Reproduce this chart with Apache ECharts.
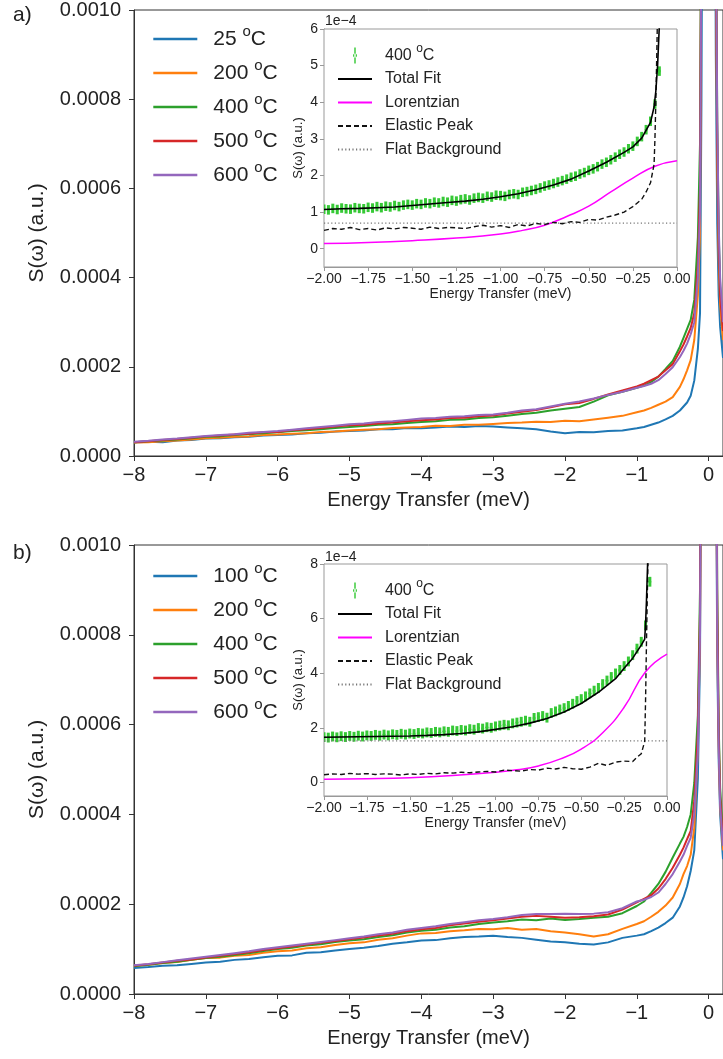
<!DOCTYPE html>
<html>
<head>
<meta charset="utf-8">
<title>S(ω) vs energy transfer</title>
<script src="https://cdn.jsdelivr.net/npm/echarts@6.0.0/dist/echarts.min.js"></script>
<style>
  html, body { margin: 0; padding: 0; background: #fff; }
  #chart { width: 723px; height: 1059px; }
</style>
</head>
<body>
<div id="chart"></div>
<script>
// energy transfer (meV) shared by the main curves, values in units of 1e-4
var energy = [-8.0,-7.8,-7.6,-7.4,-7.2,-7.0,-6.8,-6.6,-6.4,-6.2,
  -6.0,-5.8,-5.6,-5.4,-5.2,-5.0,-4.8,-4.6,-4.4,-4.2,
  -4.0,-3.8,-3.6,-3.4,-3.2,-3.0,-2.8,-2.6,-2.4,-2.2,
  -2.0,-1.8,-1.6,-1.4,-1.2,-1.0,-0.9,-0.8,-0.7,-0.6,
  -0.5,-0.4,-0.35,-0.3,-0.25,-0.2,-0.15,-0.12,-0.1,-0.05,
  0,0.05,0.1,0.12,0.14,0.16,0.2];

// panel a)
var a25 = [0.30,0.32,0.31,0.35,0.36,0.39,0.40,0.42,0.43,0.46,
  0.47,0.48,0.51,0.52,0.55,0.56,0.57,0.60,0.60,0.63,
  0.62,0.64,0.66,0.65,0.67,0.66,0.64,0.62,0.60,0.55,
  0.51,0.54,0.53,0.56,0.57,0.62,0.65,0.70,0.75,0.82,
  0.90,1.02,1.11,1.20,1.35,1.69,2.4,3.2,8,30,
  60,30,9,5.2,3.6,2.9,2.2];
var a200 = [0.30,0.31,0.33,0.35,0.37,0.40,0.41,0.43,0.44,0.47,
  0.48,0.50,0.51,0.54,0.55,0.57,0.59,0.60,0.63,0.64,
  0.65,0.68,0.67,0.70,0.70,0.72,0.74,0.75,0.77,0.76,
  0.79,0.78,0.82,0.86,0.90,0.98,1.02,1.08,1.15,1.22,
  1.32,1.55,1.72,1.92,2.15,2.6,3.6,5.0,12,35,
  70,35,11,6.5,4.4,3.4,2.6];
var a400 = [0.31,0.33,0.35,0.37,0.40,0.43,0.44,0.47,0.49,0.51,
  0.53,0.56,0.58,0.60,0.63,0.65,0.67,0.70,0.71,0.74,
  0.76,0.78,0.81,0.82,0.85,0.87,0.90,0.94,0.97,1.02,
  1.06,1.10,1.22,1.36,1.44,1.53,1.58,1.66,1.78,1.95,
  2.13,2.45,2.65,2.85,3.05,3.5,4.9,7.0,14,40,
  80,40,13,7.5,5.0,3.8,2.9];
var a500 = [0.31,0.33,0.36,0.38,0.41,0.44,0.46,0.48,0.50,0.53,
  0.54,0.58,0.60,0.63,0.66,0.69,0.70,0.73,0.75,0.78,
  0.80,0.82,0.85,0.86,0.89,0.91,0.95,0.99,1.03,1.09,
  1.16,1.19,1.28,1.38,1.47,1.56,1.62,1.70,1.78,1.92,
  2.06,2.35,2.5,2.68,2.87,3.2,4.3,6.0,13,38,
  75,38,12,7.0,4.8,3.6,2.8];
var a600 = [0.32,0.34,0.37,0.39,0.42,0.45,0.47,0.49,0.52,0.54,
  0.56,0.59,0.62,0.65,0.68,0.71,0.73,0.76,0.78,0.81,
  0.84,0.85,0.88,0.89,0.92,0.93,0.97,1.02,1.05,1.11,
  1.17,1.22,1.29,1.37,1.44,1.53,1.57,1.62,1.70,1.84,
  1.99,2.22,2.36,2.52,2.73,3.0,4.0,5.5,12,36,
  72,36,12,7.5,5.2,4.0,3.0];

// panel b)
var b100 = [0.58,0.60,0.63,0.64,0.67,0.70,0.72,0.76,0.78,0.82,
  0.85,0.86,0.92,0.93,0.97,1.00,1.03,1.07,1.12,1.15,
  1.19,1.20,1.24,1.27,1.28,1.30,1.27,1.25,1.21,1.17,
  1.15,1.12,1.10,1.15,1.25,1.30,1.33,1.40,1.48,1.58,
  1.70,1.95,2.15,2.4,2.74,3.2,4.8,7.5,14,40,
  80,40,13,7.5,5.2,4.0,3.0];
var b200 = [0.63,0.65,0.69,0.71,0.76,0.80,0.81,0.85,0.87,0.92,
  0.95,0.97,1.02,1.04,1.09,1.13,1.15,1.21,1.24,1.30,
  1.35,1.36,1.40,1.42,1.45,1.44,1.47,1.43,1.45,1.40,
  1.37,1.33,1.28,1.33,1.45,1.56,1.62,1.72,1.83,1.97,
  2.15,2.45,2.67,2.85,3.1,3.7,5.5,8.0,15,42,
  85,42,14,8,5.5,4.2,3.2];
var b400 = [0.62,0.65,0.69,0.72,0.76,0.80,0.83,0.87,0.91,0.96,
  1.00,1.03,1.08,1.11,1.16,1.19,1.22,1.27,1.31,1.37,
  1.41,1.43,1.48,1.51,1.56,1.59,1.62,1.66,1.64,1.68,
  1.65,1.67,1.70,1.72,1.80,1.96,2.06,2.25,2.45,2.72,
  3.04,3.35,3.5,3.72,4.0,4.7,6.2,9,18,50,
  100,50,16,9,6,4.6,3.5];
var b500 = [0.63,0.66,0.70,0.74,0.77,0.81,0.85,0.89,0.93,0.98,
  1.02,1.06,1.10,1.14,1.18,1.22,1.26,1.30,1.34,1.40,
  1.44,1.47,1.53,1.57,1.61,1.64,1.68,1.72,1.74,1.72,
  1.70,1.71,1.73,1.77,1.88,2.04,2.12,2.20,2.35,2.56,
  2.81,3.1,3.26,3.45,3.63,4.3,5.8,8.5,17,48,
  95,48,15,8.5,5.8,4.4,3.4];
var b600 = [0.64,0.67,0.71,0.75,0.79,0.83,0.87,0.91,0.95,1.00,
  1.04,1.08,1.12,1.16,1.20,1.24,1.28,1.33,1.37,1.43,
  1.47,1.51,1.56,1.60,1.64,1.67,1.71,1.76,1.78,1.78,
  1.79,1.78,1.79,1.82,1.91,2.06,2.10,2.16,2.26,2.45,
  2.67,2.95,3.1,3.3,3.48,4.0,5.4,8.0,16,46,
  92,46,15,8.0,5.5,4.2,3.3];

// insets: 400 C data with error bars
var insetE = [-2,-1.975,-1.95,-1.925,-1.9,-1.875,-1.85,-1.825,-1.8,-1.775,
  -1.75,-1.725,-1.7,-1.675,-1.65,-1.625,-1.6,-1.575,-1.55,-1.525,
  -1.5,-1.475,-1.45,-1.425,-1.4,-1.375,-1.35,-1.325,-1.3,-1.275,
  -1.25,-1.225,-1.2,-1.175,-1.15,-1.125,-1.1,-1.075,-1.05,-1.025,
  -1,-0.975,-0.95,-0.925,-0.9,-0.875,-0.85,-0.825,-0.8,-0.775,
  -0.75,-0.725,-0.7,-0.675,-0.65,-0.625,-0.6,-0.575,-0.55,-0.525,
  -0.5,-0.475,-0.45,-0.425,-0.4,-0.375,-0.35,-0.325,-0.3,-0.275,
  -0.25,-0.225,-0.2,-0.175,-0.15,-0.125,-0.1];
var aGreen = [1.08,1.06,1.10,1.07,1.11,1.09,1.08,1.12,1.10,1.09,
  1.13,1.11,1.15,1.12,1.16,1.14,1.18,1.15,1.19,1.21,
  1.19,1.23,1.21,1.25,1.23,1.27,1.25,1.29,1.27,1.32,
  1.30,1.34,1.36,1.33,1.38,1.40,1.38,1.43,1.41,1.46,
  1.45,1.43,1.48,1.50,1.48,1.54,1.56,1.59,1.62,1.66,
  1.71,1.74,1.78,1.82,1.86,1.90,1.95,1.98,2.04,2.08,
  2.14,2.18,2.24,2.31,2.36,2.43,2.50,2.58,2.64,2.73,
  2.80,2.93,3.06,3.25,3.48,3.95,4.85];
var bGreen = [1.66,1.64,1.68,1.65,1.69,1.66,1.70,1.67,1.71,1.68,
  1.72,1.70,1.74,1.71,1.75,1.72,1.76,1.74,1.78,1.75,
  1.79,1.77,1.81,1.79,1.83,1.81,1.85,1.83,1.87,1.85,
  1.90,1.88,1.92,1.90,1.95,1.93,1.99,1.97,2.02,2.00,
  2.05,2.08,2.11,2.09,2.16,2.19,2.22,2.26,2.22,2.36,
  2.39,2.43,2.37,2.54,2.60,2.67,2.72,2.80,2.88,2.98,
  3.05,3.15,3.26,3.36,3.46,3.60,3.73,3.86,3.99,4.12,
  4.26,4.43,4.66,4.90,5.15,5.75,7.35];
var errA = 0.13;
var errB = 0.18;

// total fit
var fitAx = [-2,-1.9,-1.8,-1.7,-1.6,-1.5,-1.4,-1.3,-1.2,-1.1,-1,-0.9,-0.8,-0.7,-0.6,-0.5,-0.4,-0.3,-0.25,-0.2,-0.15,-0.13,-0.12,-0.11,-0.1,-0.095];
var fitAy = [1.07,1.09,1.10,1.12,1.14,1.18,1.22,1.26,1.30,1.35,1.42,1.50,1.61,1.74,1.90,2.12,2.36,2.63,2.78,3.02,3.45,3.87,4.3,5.0,6.1,7.0];
var fitBx = [-2,-1.9,-1.8,-1.7,-1.6,-1.5,-1.4,-1.3,-1.2,-1.1,-1,-0.9,-0.8,-0.7,-0.6,-0.5,-0.4,-0.3,-0.25,-0.2,-0.15,-0.13,-0.125,-0.12,-0.115,-0.11];
var fitBy = [1.65,1.66,1.67,1.68,1.69,1.70,1.72,1.75,1.79,1.85,1.94,2.04,2.17,2.34,2.58,2.89,3.30,3.80,4.18,4.55,5.03,5.25,5.8,6.6,7.6,8.6];

// lorentzian
var lorE = [-2,-1.75,-1.5,-1.25,-1,-0.875,-0.75,-0.625,-0.5,-0.375,-0.25,-0.125,0];
var lorA = [0.14,0.17,0.22,0.29,0.40,0.50,0.64,0.88,1.16,1.55,1.93,2.25,2.40];
var lorB = [0.11,0.13,0.17,0.25,0.37,0.46,0.60,0.85,1.22,1.82,2.75,4.05,4.70];

// elastic peak
var elaE = [-2,-1.95,-1.9,-1.85,-1.8,-1.75,-1.7,-1.65,-1.6,-1.55,
  -1.5,-1.45,-1.4,-1.35,-1.3,-1.25,-1.2,-1.15,-1.1,-1.05,
  -1,-0.95,-0.9,-0.85,-0.8,-0.75,-0.7,-0.65,-0.6,-0.55,
  -0.5,-0.45,-0.4,-0.35,-0.3,-0.25,-0.2,
  -0.175,-0.15,-0.14,-0.13,-0.125,-0.12,-0.115,-0.11];
var elaA = [0.50,0.55,0.53,0.58,0.52,0.55,0.51,0.57,0.54,0.58,
  0.56,0.53,0.59,0.55,0.58,0.57,0.55,0.60,0.64,0.59,
  0.63,0.58,0.66,0.62,0.69,0.66,0.72,0.68,0.74,0.72,
  0.80,0.78,0.86,0.92,1.00,1.15,1.35,
  1.55,1.80,1.85,2.3,3.0,4.0,5.2,6.5];
var elaB = [0.28,0.31,0.29,0.33,0.30,0.32,0.29,0.31,0.30,0.27,
  0.31,0.29,0.33,0.31,0.35,0.34,0.37,0.35,0.38,0.40,
  0.38,0.45,0.43,0.41,0.47,0.45,0.52,0.49,0.55,0.50,
  0.48,0.56,0.70,0.62,0.74,0.78,0.76,
  0.92,1.05,1.10,1.5,3.0,5.0,6.8,8.5];

// flat background
var flatA = 0.70;
var flatB = 1.52;

var tempsA = ['25', '200', '400', '500', '600'];
var tempsB = ['100', '200', '400', '500', '600'];

var FONT = 'Liberation Sans, Arial, Helvetica, sans-serif';
var INK = '#222';
var SPINE = '#333';
var GREY = '#999';
var COLORS = ['#1f77b4', '#ff7f0e', '#2ca02c', '#d62728', '#9467bd'];
var GREEN = '#36c936';
var BAR_ICON = 'path://M1.6,0h1.8v20h-1.8z M0,10a2.5,2.5 0 1,0 5,0a2.5,2.5 0 1,0 -5,0z';

function minus(s) { return String(s).replace('-', '\u2212'); }
function pair(xs, ys) { return xs.map(function (x, i) { return [x, ys[i]]; }); }

var myChart = echarts.init(document.getElementById('chart'));

function mainX(gi) {
    return {
        gridIndex: gi, type: 'value', min: -8, max: 0.2, interval: 1,
        name: 'Energy Transfer (meV)', nameLocation: 'middle', nameGap: 34,
        nameTextStyle: { fontFamily: FONT, fontSize: 20, color: INK },
        axisLine: { show: true, onZero: false, lineStyle: { color: SPINE, width: 1 } },
        axisTick: { show: true, length: 5, lineStyle: { color: SPINE } },
        axisLabel: { fontFamily: FONT, fontSize: 20, color: INK, margin: 9, showMaxLabel: false,
            formatter: function (v) { return Number.isInteger(v) ? minus(v) : ''; } },
        splitLine: { show: false }
    };
}
function mainY(gi) {
    return {
        gridIndex: gi, type: 'value', min: 0, max: 10, interval: 2,
        name: 'S(ω) (a.u.)', nameLocation: 'middle', nameGap: 86,
        nameTextStyle: { fontFamily: FONT, fontSize: 21, color: INK },
        axisLine: { show: true, onZero: false, lineStyle: { color: SPINE, width: 1 } },
        axisTick: { show: true, length: 5, lineStyle: { color: SPINE } },
        axisLabel: { fontFamily: FONT, fontSize: 20, color: INK, margin: 13,
            formatter: function (v) { return (v / 1e4).toFixed(4); } },
        splitLine: { show: false }
    };
}
function insetXAxis(gi) {
    return {
        gridIndex: gi, type: 'value', min: -2, max: 0, interval: 0.25,
        name: 'Energy Transfer (meV)', nameLocation: 'middle', nameGap: 20,
        nameTextStyle: { fontFamily: FONT, fontSize: 14, color: INK },
        axisLine: { show: true, onZero: false, lineStyle: { color: GREY } },
        axisTick: { show: true, length: 4, lineStyle: { color: GREY } },
        axisLabel: { fontFamily: FONT, fontSize: 14, color: INK, margin: 5, interval: 0,
            formatter: function (v) { return minus(v.toFixed(2)); } },
        splitLine: { show: false }
    };
}
function insetYAxis(gi, max, ticks) {
    return {
        gridIndex: gi, type: 'value', min: -0.5, max: max,
        name: 'S(ω) (a.u.)', nameLocation: 'middle', nameGap: 19,
        nameTextStyle: { fontFamily: FONT, fontSize: 13, color: INK },
        axisLine: { show: true, onZero: false, lineStyle: { color: GREY } },
        axisTick: { show: true, length: 4, customValues: ticks, lineStyle: { color: GREY } },
        axisLabel: { fontFamily: FONT, fontSize: 14, color: INK, margin: 6, customValues: ticks },
        splitLine: { show: false }
    };
}

function mainLine(name, gi, vals, color) {
    return {
        name: name, type: 'line', xAxisIndex: gi, yAxisIndex: gi,
        data: pair(energy, vals), symbol: 'none', clip: true, z: 3,
        lineStyle: { color: color, width: 2 }, itemStyle: { color: color }
    };
}
function plainLine(name, gi, xs, ys, color, width, type, smooth) {
    return {
        name: name, type: 'line', xAxisIndex: gi, yAxisIndex: gi,
        data: pair(xs, ys), symbol: 'none', clip: true, z: 5, smooth: !!smooth,
        lineStyle: { color: color, width: width, type: type || 'solid' }, itemStyle: { color: color }
    };
}
function errorBars(params, api) {
    var x = api.value(0), y = api.value(1), e = api.value(2);
    var lo = api.coord([x, y - e]), hi = api.coord([x, y + e]), c = api.coord([x, y]);
    var col = api.visual('color');
    return { type: 'group', children: [
        { type: 'line', shape: { x1: lo[0], y1: lo[1], x2: hi[0], y2: hi[1] }, style: { stroke: col, lineWidth: 3 } },
        { type: 'circle', shape: { cx: c[0], cy: c[1], r: 1.5 }, style: { fill: col } }
    ] };
}
function greenSeries(name, gi, ys, err) {
    return {
        name: name, type: 'custom', xAxisIndex: gi, yAxisIndex: gi, clip: true, z: 4,
        data: insetE.map(function (x, i) { return [x, ys[i], err]; }),
        itemStyle: { color: GREEN }, renderItem: errorBars
    };
}

var degRich = function (big, small, pad) {
    return {
        p: { fontFamily: FONT, fontSize: big, lineHeight: big + 9, color: INK, padding: [0, 0, 0, pad] },
        n: { fontFamily: FONT, fontSize: big, lineHeight: big + 9, color: INK },
        s: { fontFamily: FONT, fontSize: small, lineHeight: small - 3, color: INK, verticalAlign: 'top' }
    };
};
function mainLegend(top, prefix, temps) {
    return {
        orient: 'vertical', left: 152, top: top, padding: 0,
        itemWidth: 44, itemHeight: 14, itemGap: 8.5,
        itemStyle: { opacity: 0 }, lineStyle: { width: 2.6 },
        data: temps.map(function (t) { return prefix + t; }),
        formatter: function (name) { return '{p|' + name.slice(1) + ' }{s|o}{n|C}'; },
        textStyle: { fontFamily: FONT, fontSize: 21, color: INK, rich: degRich(21, 15, 11) }
    };
}
var insetNames = { g: '{p|400 }{s|o}{n|C}', fit: '{p|Total Fit}', lor: '{p|Lorentzian}', ela: '{p|Elastic Peak}', flat: '{p|Flat Background}' };
function insetLegend(top, prefix) {
    return {
        orient: 'vertical', left: 337, top: top, padding: 0,
        itemWidth: 34, itemHeight: 16, itemGap: 7.5,
        itemStyle: { opacity: 0 },
        data: [{ name: prefix + 'g', icon: BAR_ICON, itemStyle: { opacity: 1, color: GREEN } },
            prefix + 'fit', prefix + 'lor', prefix + 'ela', prefix + 'flat'],
        formatter: function (name) { return insetNames[name.slice(1)]; },
        textStyle: { fontFamily: FONT, fontSize: 16, color: INK, rich: degRich(16, 12, 8) }
    };
}

var series = [];
tempsA.forEach(function (t, i) { series.push(mainLine('a' + t, 0, [a25, a200, a400, a500, a600][i], COLORS[i])); });
tempsB.forEach(function (t, i) { series.push(mainLine('b' + t, 2, [b100, b200, b400, b500, b600][i], COLORS[i])); });

series.push(greenSeries('ag', 1, aGreen, errA));
series.push(plainLine('aflat', 1, [-2, 0], [flatA, flatA], '#777', 1.2, [1.2, 2.4]));
series.push(plainLine('alor', 1, lorE, lorA, '#ff00ff', 1.5, 'solid', true));
series.push(plainLine('aela', 1, elaE, elaA, '#111', 1.4, [5, 3]));
series.push(plainLine('afit', 1, fitAx, fitAy, '#000', 1.6));

series.push(greenSeries('bg', 3, bGreen, errB));
series.push(plainLine('bflat', 3, [-2, 0], [flatB, flatB], '#777', 1.2, [1.2, 2.4]));
series.push(plainLine('blor', 3, lorE, lorB, '#ff00ff', 1.5, 'solid', true));
series.push(plainLine('bela', 3, elaE, elaB, '#111', 1.4, [5, 3]));
series.push(plainLine('bfit', 3, fitBx, fitBy, '#000', 1.6));

myChart.setOption({
    animation: false,
    backgroundColor: '#fff',
    grid: [
        { left: 134, top: 7, width: 592, height: 449, show: true, borderColor: SPINE, borderWidth: 1 },
        { left: 324, top: 29, width: 353, height: 238, show: true, borderColor: GREY, borderWidth: 1, backgroundColor: '#fff', z: 3 },
        { left: 134, top: 545, width: 592, height: 449, show: true, borderColor: SPINE, borderWidth: 1 },
        { left: 324, top: 564, width: 343, height: 232, show: true, borderColor: GREY, borderWidth: 1, backgroundColor: '#fff', z: 3 }
    ],
    xAxis: [mainX(0), insetXAxis(1), mainX(2), insetXAxis(3)],
    yAxis: [mainY(0), insetYAxis(1, 6, [0, 1, 2, 3, 4, 5, 6]), mainY(2), insetYAxis(3, 8, [0, 2, 4, 6, 8])],
    legend: [mainLegend(24, 'a', tempsA), insetLegend(43, 'a'), mainLegend(561, 'b', tempsB), insetLegend(578, 'b')],
    graphic: [
        { type: 'text', left: 13, top: 5, style: { text: 'a)', font: '21px ' + FONT, fill: INK } },
        { type: 'text', left: 13, top: 543, style: { text: 'b)', font: '21px ' + FONT, fill: INK } },
        { type: 'text', left: 325, top: 14, style: { text: '1e\u22124', font: '14px ' + FONT, fill: INK } },
        { type: 'text', left: 325, top: 550, style: { text: '1e\u22124', font: '14px ' + FONT, fill: INK } }
    ],
    series: series
});
</script>
</body>
</html>
